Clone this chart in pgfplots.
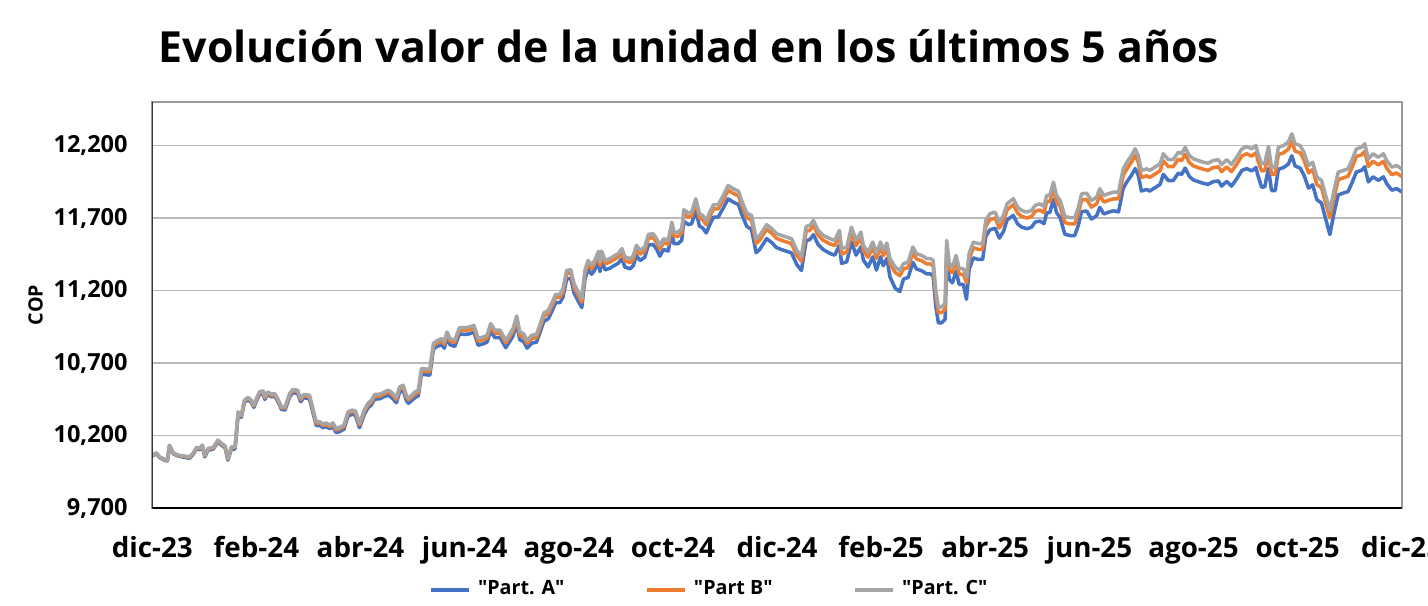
\documentclass[border=0pt]{standalone}
\usepackage{pgfplots}
\pgfplotsset{compat=1.18}
\usepackage{pgfplotstable}
\usepackage{fontspec}
\setmainfont{Open Sans}
\definecolor{colA}{HTML}{4472C4}
\definecolor{colB}{HTML}{ED7D31}
\definecolor{colC}{HTML}{A5A5A5}
\newcommand{\q}{\XeTeXglyph\XeTeXglyphindex "quotedbl" \relax}
\pgfplotstableread{
m A B C
0 10059 10062 10065
0.08 10075 10078 10081
0.14 10047 10050 10053
0.24 10029 10032 10035
0.29 10025 10028 10031
0.33 10128 10131 10134
0.40 10075 10078 10081
0.49 10059 10062 10065
0.62 10049 10055 10058
0.72 10044 10050 10053
0.78 10068 10074 10077
0.85 10109 10115 10118
0.91 10102 10108 10111
0.96 10125 10131 10134
1.01 10053 10060 10065
1.07 10099 10106 10111
1.17 10106 10113 10118
1.26 10156 10163 10168
1.33 10134 10141 10146
1.40 10115 10122 10127
1.45 10030 10037 10042
1.52 10107 10117 10122
1.59 10107 10117 10122
1.65 10348 10358 10363
1.71 10325 10335 10340
1.77 10429 10439 10444
1.84 10447 10457 10462
1.90 10429 10439 10444
1.95 10394 10404 10409
2.00 10437 10447 10455
2.06 10483 10493 10501
2.13 10490 10500 10508
2.16 10449 10459 10467
2.22 10483 10493 10501
2.29 10467 10477 10485
2.35 10472 10482 10490
2.41 10437 10447 10455
2.48 10380 10390 10398
2.55 10376 10390 10398
2.64 10468 10482 10490
2.70 10495 10509 10517
2.79 10491 10505 10513
2.85 10433 10447 10455
2.91 10461 10475 10483
3.02 10453 10468 10478
3.10 10338 10353 10363
3.15 10269 10284 10294
3.22 10269 10284 10294
3.28 10254 10269 10279
3.34 10262 10277 10287
3.41 10247 10262 10272
3.47 10262 10277 10287
3.53 10220 10239 10249
3.60 10227 10246 10256
3.68 10243 10262 10272
3.76 10334 10353 10363
3.84 10346 10365 10375
3.90 10341 10360 10370
3.98 10254 10273 10283
4.07 10343 10362 10375
4.14 10389 10408 10421
4.21 10412 10431 10444
4.27 10451 10470 10483
4.37 10453 10472 10485
4.46 10469 10488 10501
4.54 10477 10500 10513
4.62 10454 10477 10490
4.69 10426 10449 10462
4.75 10499 10522 10535
4.82 10511 10534 10547
4.88 10442 10465 10478
4.92 10422 10445 10458
5.05 10462 10485 10501
5.11 10474 10497 10513
5.17 10623 10646 10662
5.33 10616 10639 10655
5.40 10795 10818 10834
5.46 10813 10836 10852
5.56 10826 10853 10869
5.61 10802 10829 10845
5.66 10871 10898 10914
5.72 10826 10853 10869
5.81 10814 10841 10857
5.90 10901 10928 10944
6.01 10897 10925 10944
6.10 10902 10930 10949
6.18 10913 10941 10960
6.26 10822 10850 10869
6.36 10833 10861 10880
6.43 10844 10872 10891
6.50 10921 10953 10972
6.58 10875 10907 10926
6.68 10875 10907 10926
6.79 10806 10838 10857
6.87 10852 10884 10903
6.93 10887 10919 10938
7.00 10970 11002 11024
7.06 10860 10892 10914
7.13 10849 10881 10903
7.20 10803 10835 10857
7.29 10837 10869 10891
7.38 10844 10876 10898
7.45 10913 10945 10967
7.52 10987 11023 11045
7.61 11006 11042 11064
7.67 11052 11088 11110
7.75 11116 11152 11174
7.83 11116 11152 11174
7.89 11155 11191 11213
7.96 11281 11317 11339
8.04 11282 11320 11344
8.10 11186 11224 11248
8.18 11128 11166 11190
8.25 11082 11120 11144
8.31 11277 11315 11339
8.37 11346 11384 11408
8.44 11312 11350 11374
8.50 11342 11384 11408
8.57 11404 11446 11470
8.60 11330 11372 11396
8.63 11406 11448 11472
8.70 11342 11384 11408
8.79 11354 11396 11420
8.89 11376 11418 11442
8.95 11388 11430 11454
9.02 11419 11462 11489
9.08 11361 11404 11431
9.18 11350 11393 11420
9.24 11372 11415 11442
9.30 11441 11484 11511
9.37 11407 11450 11477
9.46 11430 11473 11500
9.53 11513 11560 11587
9.62 11518 11565 11592
9.69 11483 11530 11557
9.75 11437 11484 11511
9.82 11483 11530 11557
9.91 11472 11519 11546
9.98 11598 11645 11672
10.02 11523 11574 11603
10.10 11523 11574 11603
10.17 11546 11597 11626
10.21 11677 11728 11757
10.30 11654 11705 11734
10.36 11661 11712 11741
10.44 11753 11804 11833
10.51 11644 11701 11730
10.57 11632 11689 11718
10.64 11597 11654 11683
10.71 11655 11712 11741
10.78 11706 11763 11792
10.87 11706 11763 11792
10.97 11770 11827 11856
11.06 11832 11892 11924
11.16 11810 11870 11902
11.26 11793 11853 11885
11.32 11729 11789 11821
11.42 11642 11702 11734
11.51 11622 11686 11718
11.60 11461 11525 11557
11.67 11484 11548 11580
11.80 11558 11622 11654
11.90 11530 11594 11626
11.99 11496 11560 11592
12.09 11482 11546 11580
12.19 11470 11534 11568
12.28 11459 11523 11557
12.38 11379 11443 11477
12.47 11338 11402 11436
12.56 11544 11608 11642
12.63 11551 11615 11649
12.70 11585 11649 11683
12.79 11517 11581 11615
12.89 11482 11546 11580
13.02 11455 11521 11557
13.11 11444 11510 11546
13.20 11513 11579 11615
13.24 11387 11453 11489
13.34 11398 11464 11500
13.43 11535 11601 11637
13.52 11444 11510 11546
13.61 11501 11567 11603
13.66 11409 11475 11511
13.75 11363 11429 11465
13.84 11432 11498 11534
13.91 11341 11422 11458
13.99 11432 11498 11534
14.04 11371 11440 11477
14.11 11421 11490 11527
14.17 11294 11383 11420
14.27 11216 11325 11362
14.36 11193 11302 11339
14.43 11279 11348 11385
14.52 11290 11359 11396
14.61 11394 11463 11500
14.68 11348 11417 11454
14.78 11336 11405 11442
14.88 11314 11383 11420
14.95 11314 11383 11420
15.00 11299 11369 11408
15.05 11092 11162 11201
15.10 10977 11047 11086
15.16 10977 11047 11086
15.23 11001 11071 11110
15.26 11437 11507 11546
15.31 11276 11346 11385
15.37 11253 11323 11362
15.44 11333 11403 11442
15.50 11242 11312 11351
15.58 11242 11312 11351
15.64 11139 11254 11293
15.69 11345 11415 11454
15.77 11425 11495 11534
15.87 11414 11484 11523
15.95 11414 11484 11523
16.01 11572 11642 11683
16.09 11619 11689 11730
16.19 11630 11700 11741
16.27 11561 11631 11672
16.35 11607 11677 11718
16.42 11687 11757 11798
16.54 11718 11792 11833
16.62 11660 11734 11775
16.70 11637 11711 11752
16.80 11626 11700 11741
16.89 11637 11711 11752
16.96 11672 11746 11787
17.05 11679 11755 11798
17.13 11661 11737 11780
17.18 11737 11813 11856
17.24 11737 11813 11856
17.31 11828 11904 11947
17.37 11737 11813 11856
17.44 11702 11778 11821
17.53 11588 11668 11711
17.63 11579 11659 11702
17.72 11579 11659 11702
17.79 11652 11732 11775
17.85 11744 11824 11867
17.95 11748 11828 11871
18.04 11693 11775 11821
18.14 11716 11798 11844
18.20 11774 11856 11902
18.28 11728 11810 11856
18.36 11739 11821 11867
18.46 11750 11832 11878
18.56 11742 11832 11878
18.65 11903 11993 12039
18.72 11949 12039 12085
18.81 11995 12085 12131
18.88 12041 12131 12177
18.94 11995 12085 12131
19.00 11886 11980 12028
19.10 11897 11991 12039
19.16 11886 11980 12028
19.26 11909 12003 12051
19.36 11932 12026 12074
19.42 12001 12095 12143
19.52 11958 12054 12102
19.61 11958 12054 12102
19.71 12010 12106 12154
19.77 11999 12095 12143
19.84 12044 12140 12188
19.92 11987 12083 12131
20.00 11962 12059 12108
20.09 11951 12048 12097
20.19 11939 12036 12085
20.28 11932 12029 12078
20.38 11951 12048 12097
20.48 11956 12053 12102
20.54 11920 12020 12069
20.64 11953 12053 12102
20.73 11920 12020 12069
20.83 11970 12070 12119
20.93 12028 12128 12177
21.02 12041 12143 12193
21.12 12025 12127 12177
21.20 12048 12150 12200
21.24 11991 12093 12143
21.31 11912 12024 12074
21.37 11916 12028 12078
21.44 12041 12143 12193
21.50 11889 12001 12051
21.57 11889 12001 12051
21.63 12036 12138 12188
21.73 12048 12150 12200
21.82 12071 12173 12223
21.89 12129 12231 12281
21.95 12060 12162 12212
22.05 12044 12149 12200
22.12 11998 12103 12154
22.21 11906 12011 12062
22.29 11929 12034 12085
22.37 11826 11931 11982
22.46 11803 11908 11959
22.53 11706 11816 11867
22.62 11586 11701 11752
22.70 11734 11839 11890
22.78 11860 11965 12016
22.88 11872 11977 12028
22.97 11883 11988 12039
23.04 11938 12045 12097
23.13 12018 12125 12177
23.23 12029 12136 12188
23.29 12053 12160 12212
23.36 11949 12056 12108
23.45 11984 12091 12143
23.55 11960 12067 12119
23.65 11984 12091 12143
23.71 11938 12045 12097
23.81 11892 11999 12051
23.90 11903 12010 12062
24.00 11880 11987 12039
}\data
\begin{document}
\begin{tikzpicture}
\useasboundingbox (0,0) rectangle (14.28cm,6.05cm);
\node[anchor=base, font=\fontsize{12.2}{14}\selectfont\bfseries] at (6.89cm,5.43cm) {Evolución valor de la unidad en los últimos 5 años};
\begin{axis}[
  at={(1.523cm,0.97cm)}, anchor=south west,
  scale only axis, width=12.494cm, height=4.06cm,
  xmin=0, xmax=24, ymin=9700, ymax=12500,
  xtick={0,2,...,24},
  xticklabels={dic-23,feb-24,abr-24,jun-24,ago-24,oct-24,dic-24,feb-25,abr-25,jun-25,ago-25,oct-25,dic-25},
  ytick={9700,10200,10700,11200,11700,12200},
  scaled y ticks=false,
  major tick length=0pt,
  ymajorgrids, grid style={draw=gray!55, line width=0.5pt},
  axis line style={draw=gray!80, line width=0.5pt},
  /pgf/number format/assume math mode=true,
  /pgf/number format/1000 sep={,},
  yticklabel style={font=\fontsize{6.7}{8}\selectfont\bfseries, anchor=east, inner sep=0pt, xshift=-2.4mm},
  xticklabel style={font=\fontsize{7.9}{9}\selectfont\bfseries, anchor=base, inner sep=0pt, yshift=-4.9mm},
  ylabel={COP},
  ylabel style={font=\fontsize{5.6}{7}\selectfont\bfseries, at={(axis description cs:-0.0935,0.5)}, anchor=center},
  legend columns=3,
  legend style={draw=none, font=\fontsize{5.6}{7}\selectfont\bfseries, at={(0.448,-0.202)}, anchor=center,
    /tikz/every even column/.append style={column sep=7.4mm}},
  legend image code/.code={\draw[#1, line width=1pt] (0cm,0cm) -- (3.8mm,0cm);},
  every axis plot/.append style={line width=1pt, line join=round},
]
\addplot[colA] table[x=m,y=A]{\data};
\addlegendentry{\q Part. A\q}
\addplot[colB] table[x=m,y=B]{\data};
\addlegendentry{\q Part B\q}
\addplot[colC] table[x=m,y=C]{\data};
\addlegendentry{\q Part. C\q}
\draw[black, line width=0.6pt] (rel axis cs:0,1) -- (rel axis cs:0,0) -- (rel axis cs:1,0);
\end{axis}
\end{tikzpicture}
\end{document}
